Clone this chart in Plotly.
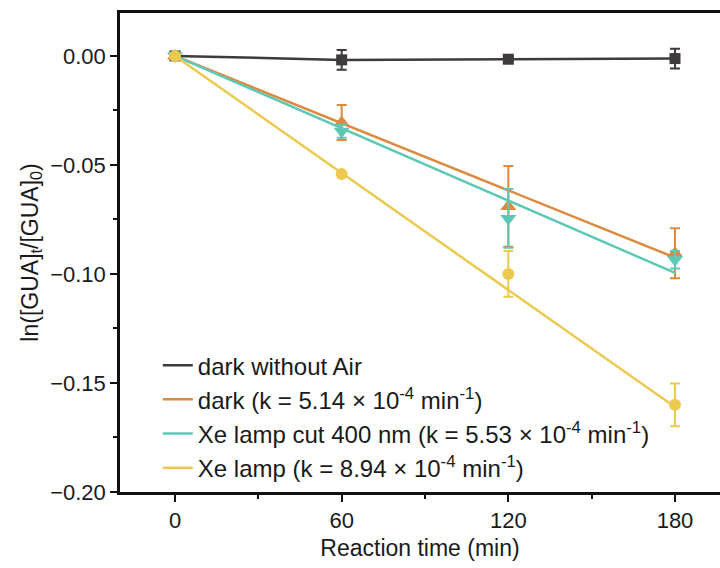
import plotly.graph_objects as go

# ---- data ----
t = [0, 60, 120, 180]
fit_t = [0, 180]

air_y = [0.0, -0.0018, -0.0015, -0.0012]
air_err = [0.0, 0.0045, 0.001, 0.0045]

dark_y = [0.0, -0.0305, -0.069, -0.0905]
dark_err = [0.0, 0.008, 0.0185, 0.0115]
dark_fit = [0.0, -0.0925]

cut_y = [0.0, -0.0345, -0.0745, -0.0935]
cut_err = [0.0, 0.003, 0.0135, 0.004]
cut_fit = [0.0, -0.0995]

xe_y = [0.0, -0.0542, -0.100, -0.160]
xe_err = [0.0, 0.001, 0.0105, 0.0098]
xe_fit = [0.0, -0.161]

names = [
    "dark without Air",
    "dark (k = 5.14 × 10<sup>-4</sup> min<sup>-1</sup>)",
    "Xe lamp cut 400 nm (k = 5.53 × 10<sup>-4</sup> min<sup>-1</sup>)",
    "Xe lamp (k = 8.94 × 10<sup>-4</sup> min<sup>-1</sup>)",
]

C_AIR = "#3d3b3b"
C_DARK = "#db8a3f"
C_CUT = "#5ec8b6"
C_XE = "#ecca50"

FONT = "Liberation Sans, Arial, sans-serif"

fig = go.Figure()

def add_series(i, y, err, fit_x, fit_y, color, symbol, msize):
    # legend/fit line
    fig.add_trace(go.Scatter(
        x=fit_x, y=fit_y, mode="lines", name=names[i],
        line=dict(color=color, width=2.5),
        legendgroup=f"g{i}", showlegend=True, hoverinfo="skip"))
    # markers with error bars
    fig.add_trace(go.Scatter(
        x=t, y=y, mode="markers", name=names[i],
        marker=dict(color=color, symbol=symbol, size=msize, line=dict(width=0)),
        error_y=dict(type="data", array=err, visible=True, color=color,
                     thickness=2, width=5),
        legendgroup=f"g{i}", showlegend=False))

add_series(0, air_y, air_err, t, air_y, C_AIR, "square", 11)
add_series(1, dark_y, dark_err, fit_t, dark_fit, C_DARK, "triangle-up", 14)
add_series(2, cut_y, cut_err, fit_t, cut_fit, C_CUT, "triangle-down", 14)
add_series(3, xe_y, xe_err, fit_t, xe_fit, C_XE, "circle", 12)

fig.update_layout(
    width=720, height=568,
    margin=dict(l=120, r=0, t=13, b=76),
    paper_bgcolor="white", plot_bgcolor="white",
    font=dict(family=FONT, size=22, color="#1a1a1a"),
    showlegend=True,
    legend=dict(
        x=0.063, y=0.311, xanchor="left", yanchor="top",
        bgcolor="rgba(0,0,0,0)", borderwidth=0,
        font=dict(family=FONT, size=24, color="#1a1a1a"),
        traceorder="grouped", tracegroupgap=0,
    ),
)

fig.update_xaxes(
    range=[-19.8, 196.2],
    tickmode="array", tickvals=[0, 60, 120, 180],
    ticks="outside", ticklen=7, tickwidth=2, tickcolor="#111",
    minor=dict(ticks="outside", ticklen=4, tickwidth=2, tickcolor="#111",
               dtick=30, tick0=0),
    showline=True, linewidth=2.5, linecolor="#111", mirror=True,
    showgrid=False, zeroline=False,
    tickfont=dict(size=22),
    title=dict(text="Reaction time (min)", font=dict(size=23), standoff=8),
)
fig.update_yaxes(
    range=[-0.2, 0.0197],
    tickmode="array", tickvals=[0.0, -0.05, -0.10, -0.15, -0.20],
    ticktext=["0.00", "\u22120.05", "\u22120.10", "\u22120.15", "\u22120.20"],
    ticks="outside", ticklen=7, tickwidth=2, tickcolor="#111",
    minor=dict(ticks="outside", ticklen=4, tickwidth=2, tickcolor="#111",
               dtick=0.025, tick0=0),
    showline=True, linewidth=2.5, linecolor="#111", mirror=False,
    showgrid=False, zeroline=False,
    tickfont=dict(size=22),
    title=dict(text="ln([GUA]<sub>t</sub>/[GUA]<sub>0</sub>)", font=dict(size=23), standoff=6),
)

fig.write_html("out.html")
